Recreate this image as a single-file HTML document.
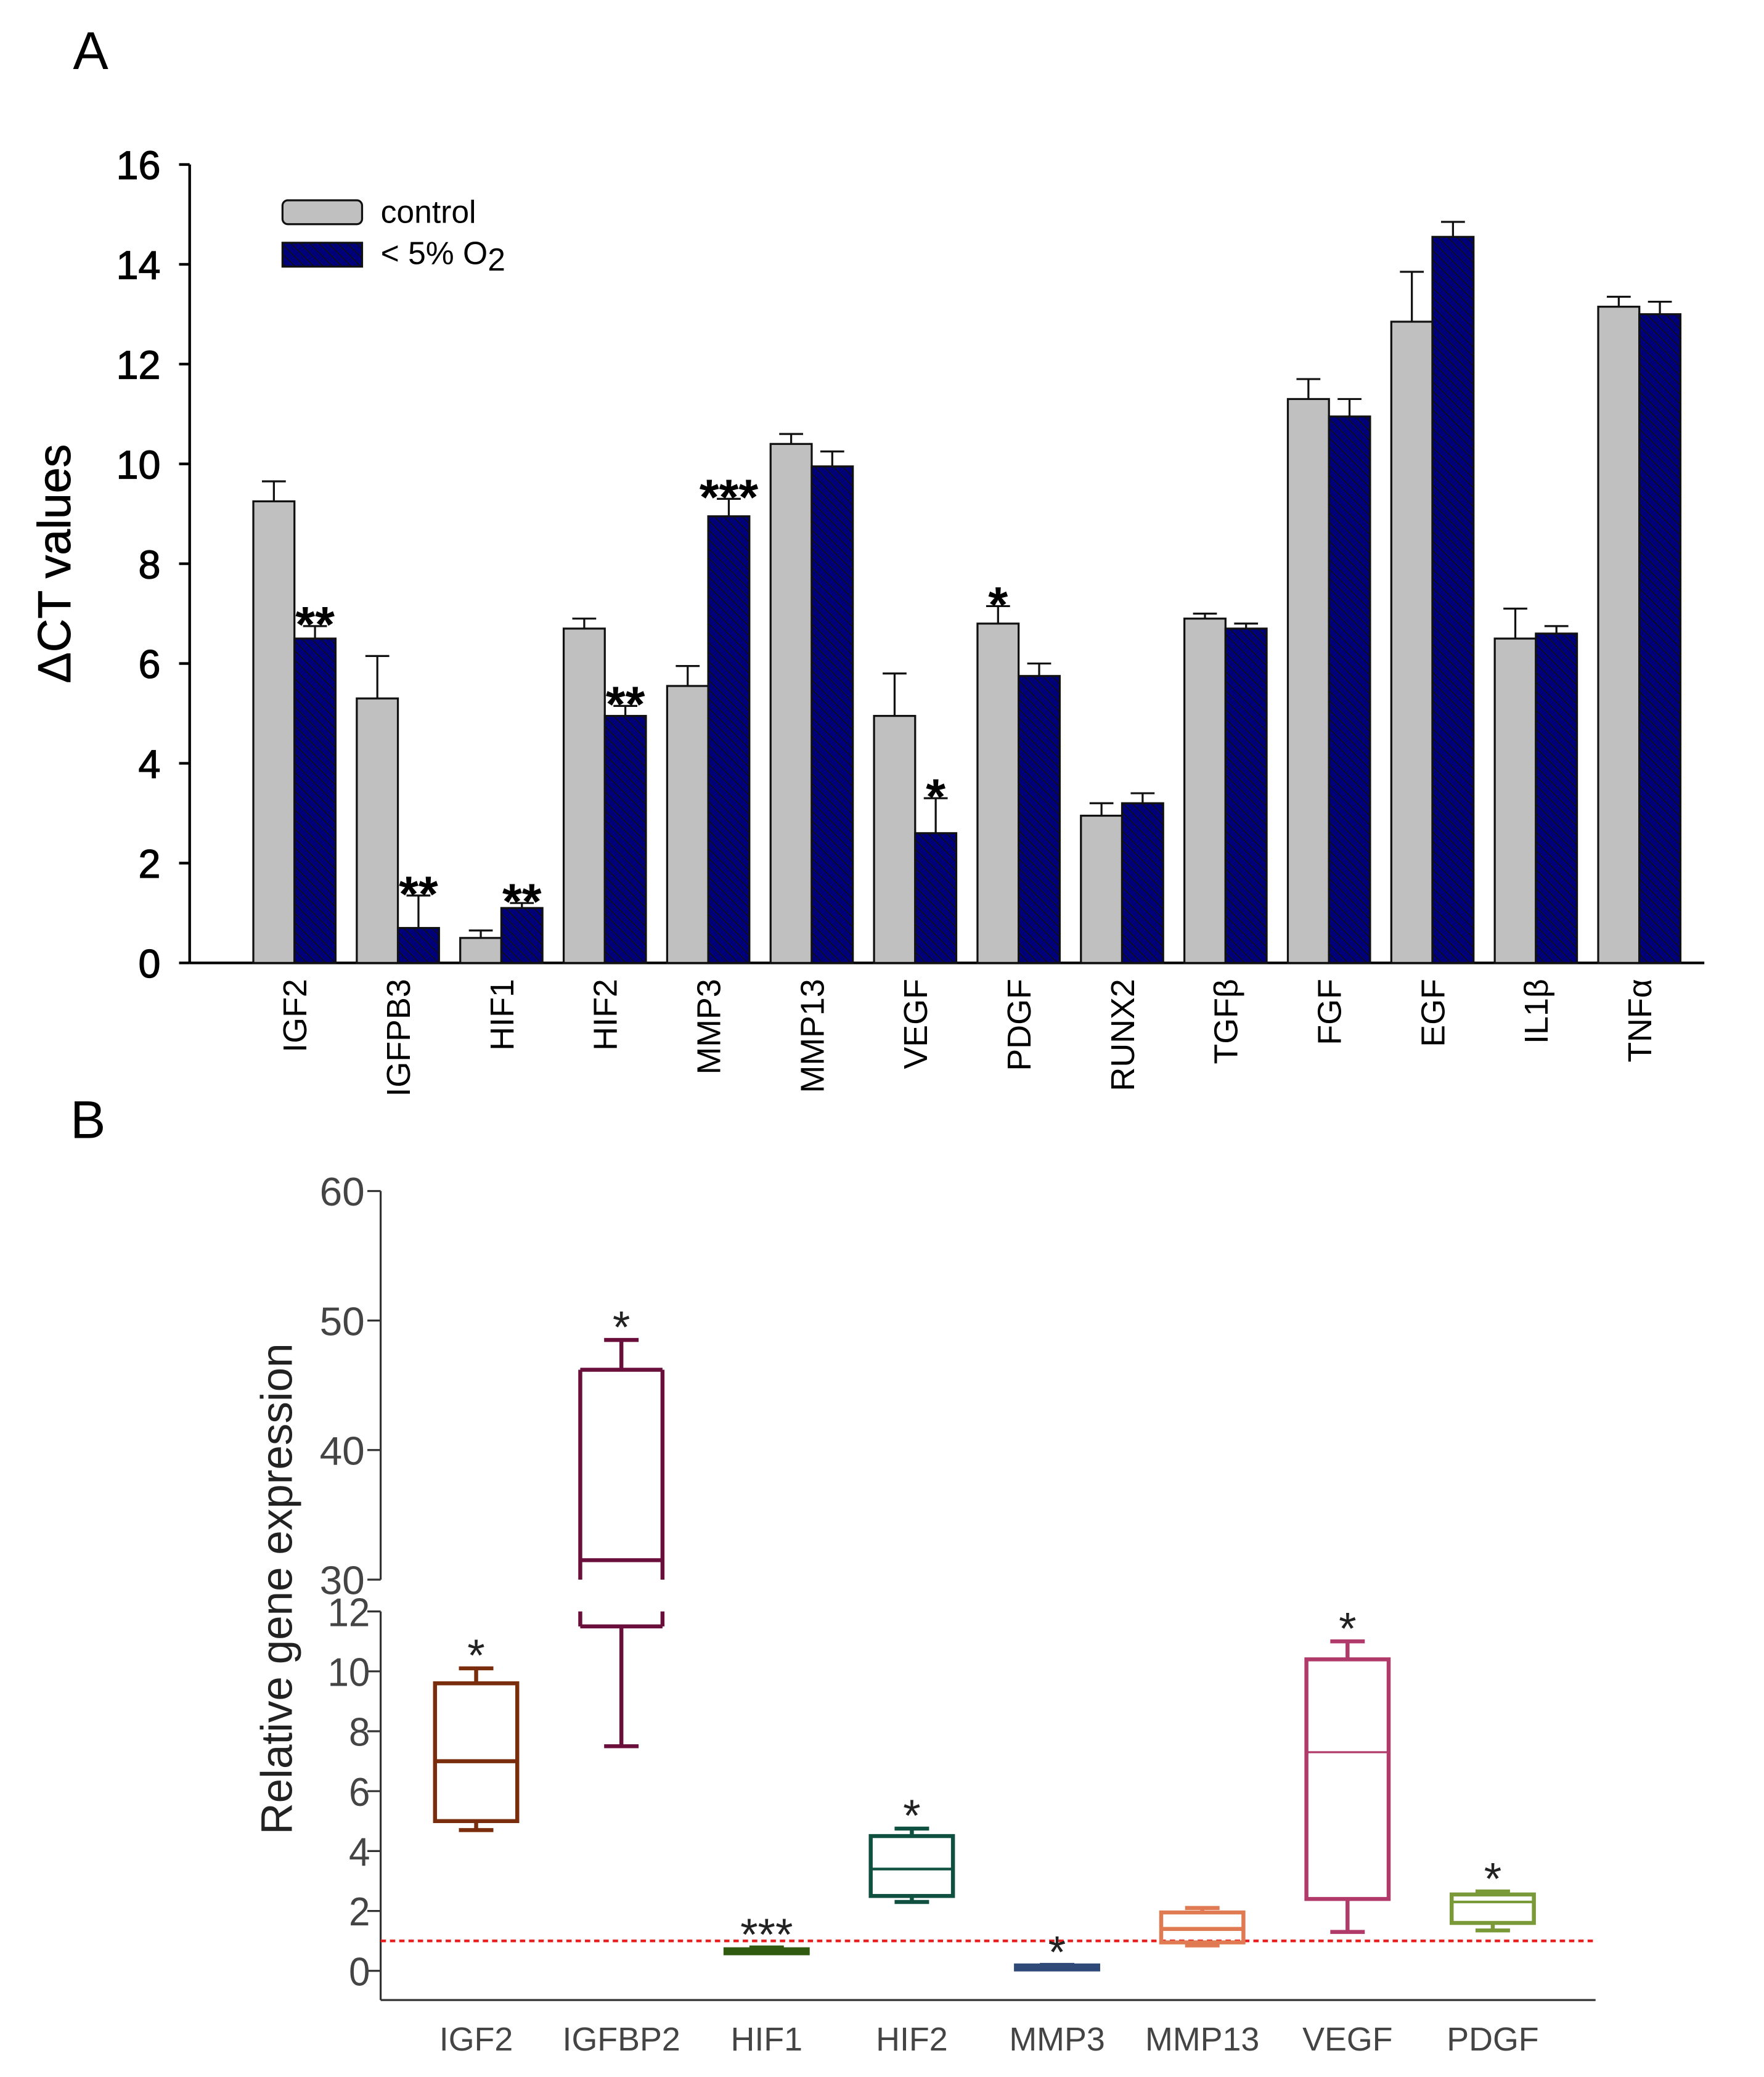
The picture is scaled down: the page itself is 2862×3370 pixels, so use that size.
<!DOCTYPE html>
<html><head><meta charset="utf-8"><style>
html,body{margin:0;padding:0;background:#fff}
svg{display:block}
text{font-family:"Liberation Sans",sans-serif}
</style></head><body>
<svg id="fig" width="2862" height="3370" viewBox="0 0 1330 1566" xmlns="http://www.w3.org/2000/svg">
<defs>
<pattern id="hatch" patternUnits="userSpaceOnUse" width="5" height="5" patternTransform="rotate(-45)">
<rect width="5" height="5" fill="#00007a"/>
<line x1="0" y1="0" x2="0" y2="5" stroke="#111" stroke-width="1.4"/>
</pattern>
</defs>
<text x="55" y="52" font-size="40">A</text>
<text x="53" y="858" font-size="40">B</text>
<g id="chartA"></g>
<g id="chartB"></g>
</svg>
<script>
const catsA=["IGF2","IGFPB3","HIF1","HIF2","MMP3","MMP13","VEGF","PDGF","RUNX2","TGFβ","FGF","EGF","IL1β","TNFα"];
const ctrlVals=[9.25,5.3,0.5,6.7,5.55,10.4,4.95,6.8,2.95,6.9,11.3,12.85,6.5,13.15];
const ctrlErr=[0.4,0.85,0.15,0.2,0.4,0.2,0.85,0.35,0.25,0.1,0.4,1.0,0.6,0.2];
const hypVals=[6.5,0.7,1.1,4.95,8.95,9.95,2.6,5.75,3.2,6.7,10.95,14.55,6.6,13.0];
const hypErr=[0.25,0.65,0.1,0.2,0.35,0.3,0.7,0.25,0.2,0.1,0.35,0.3,0.15,0.25];
const ctrlStars=["","","","","","","","*","","","","","",""];
const hypStars=["**","**","**","**","***","","*","","","","","","",""];
const ticksA=[0,2,4,6,8,10,12,14,16];

const catsB=["IGF2","IGFBP2","HIF1","HIF2","MMP3","MMP13","VEGF","PDGF"];
const bMin=[4.7,7.5,0.6,2.3,0.1,0.85,1.3,1.35];
const bQ1=[5.0,11.5,0.62,2.5,0.12,0.95,2.4,1.6];
const bMed=[7.0,31.5,0.68,3.4,0.15,1.4,7.3,2.3];
const bQ3=[9.6,46.2,0.72,4.5,0.18,1.95,10.4,2.55];
const bMax=[10.1,48.5,0.78,4.75,0.2,2.1,11.0,2.65];
const bStars=["*","*","***","*","*","","*","*"];
const bColors=["#7a2d0c","#6a0f3c","#2f5a0f","#0f5040","#2f4a78","#e07a52","#b03a6a","#7a9a3a"];
const ticksBLow=[0,2,4,6,8,10,12];
const ticksBHigh=[30,40,50,60];

const NS="http://www.w3.org/2000/svg";
function mk(parent,tag,attrs,txt){const e=document.createElementNS(NS,tag);for(const k in attrs)e.setAttribute(k,attrs[k]);if(txt!==undefined)e.textContent=txt;parent.appendChild(e);return e;}

// Chart A
const gA=document.getElementById('chartA');
const ax0=143, axR=1285, y0A=726, y16=124;
const yA=v=>y0A-(y0A-y16)*v/16;
const xA=i=>222+78*i;
const bw=31;
let l=mk(gA,'line',{x1:ax0,y1:y16,x2:ax0,y2:y0A,stroke:'#000','stroke-width':2});


l=mk(gA,'line',{x1:ax0,y1:y0A,x2:axR,y2:y0A,stroke:'#000','stroke-width':2});


ticksA.forEach(t=>{
  mk(gA,'line',{x1:ax0-8,y1:yA(t),x2:ax0,y2:yA(t),stroke:'#000','stroke-width':2});
  const tx=mk(gA,'text',{x:ax0-22,y:yA(t)+11,'font-size':30,'text-anchor':'end',stroke:'#000','stroke-width':0.6},String(t));
  
  
});
let tt=mk(gA,'text',{x:0,y:0,'font-size':35,'text-anchor':'middle',stroke:'#000','stroke-width':0.4,transform:'translate(53,425) rotate(-90)'},'ΔCT values');


catsA.forEach((c,i)=>{
  const cx=xA(i);
  [[ctrlVals[i],ctrlErr[i],'#c0c0c0',cx-bw,ctrlStars[i],'control'],[hypVals[i],hypErr[i],'url(#hatch)',cx,hypStars[i],'hypoxia']].forEach(([v,e,f,x,s,n])=>{
    const r=mk(gA,'rect',{x:x,y:yA(v),width:bw,height:y0A-yA(v),fill:f,stroke:'#111','stroke-width':1.5});
    
    
    const mx=x+bw/2;
    mk(gA,'line',{x1:mx,y1:yA(v),x2:mx,y2:yA(v+e),stroke:'#111','stroke-width':1.5});
    mk(gA,'line',{x1:mx-9,y1:yA(v+e),x2:mx+9,y2:yA(v+e),stroke:'#111','stroke-width':1.5});
    if(s){const st=mk(gA,'text',{x:mx,y:yA(v+e)+12,'font-size':38,'text-anchor':'middle','font-weight':'bold'},s);
      
      }
  });
  const lb=mk(gA,'text',{x:0,y:0,'font-size':25,'text-anchor':'end',transform:`translate(${cx+9},738) rotate(-90)`},c);
  
  
});
// legend
let lg=mk(gA,'rect',{x:213,y:151,width:60,height:18,rx:4,fill:'#c0c0c0',stroke:'#111','stroke-width':1.5});


lg=mk(gA,'text',{x:287,y:168,'font-size':24},'control');


lg=mk(gA,'rect',{x:213,y:183,width:60,height:18,fill:'url(#hatch)',stroke:'#111','stroke-width':1.5});


lg=mk(gA,'text',{x:287,y:199,'font-size':24},'< 5% O');


mk(lg,'tspan',{dy:5,'font-size':24},'2');

// Chart B
const gB=document.getElementById('chartB');
const bx0=287,bxR=1203,bAxB=1508;
const yLow=v=>1486-v*(1486-1215)/12;
const yHigh=v=>1191-(v-30)*(1191-898)/30;
const yB=v=>v<=12?yLow(v):(v>=30?yHigh(v):null);
const xB=i=>359+109.5*i;
l=mk(gB,'line',{x1:bx0,y1:898,x2:bx0,y2:1191,stroke:'#333','stroke-width':1.5});


l=mk(gB,'line',{x1:bx0,y1:1215,x2:bx0,y2:bAxB,stroke:'#333','stroke-width':1.5});


l=mk(gB,'line',{x1:bx0,y1:bAxB,x2:bxR,y2:bAxB,stroke:'#333','stroke-width':1.5});


ticksBLow.forEach(t=>{
  mk(gB,'line',{x1:bx0-10,y1:yLow(t),x2:bx0,y2:yLow(t),stroke:'#333','stroke-width':1.5});
  const tx=mk(gB,'text',{x:bx0-8,y:yLow(t)+11,'font-size':30,'text-anchor':'end',fill:'#444',textLength:t>=10?32:16,lengthAdjust:'spacingAndGlyphs'},String(t));
  
  
});
ticksBHigh.forEach(t=>{
  mk(gB,'line',{x1:bx0-10,y1:yHigh(t),x2:bx0,y2:yHigh(t),stroke:'#333','stroke-width':1.5});
  const tx=mk(gB,'text',{x:bx0-12,y:yHigh(t)+11,'font-size':30,'text-anchor':'end',fill:'#444',textLength:34,lengthAdjust:'spacingAndGlyphs'},String(t));
  
  
});
tt=mk(gB,'text',{x:0,y:0,'font-size':33,'text-anchor':'middle',fill:'#222',transform:'translate(220,1198) rotate(-90)'},'Relative gene expression');


const ref=mk(gB,'line',{x1:bx0,y1:yLow(1),x2:bxR,y2:yLow(1),stroke:'#e82020','stroke-width':2,'stroke-dasharray':'4,3'});


const bwB=62;
function seg(g,y1,y2,x,c){
  const a=Math.min(y1,y2),b=Math.max(y1,y2);
  mk(g,'line',{x1:x,y1:a,x2:x,y2:b,stroke:c,'stroke-width':3});
}
catsB.forEach((c,i)=>{
  const cx=xB(i),col=bColors[i],g=mk(gB,'g',{});
  
  
  const x1=cx-bwB/2,x2=cx+bwB/2;
  const yq1=yB(bQ1[i]),yq3=yB(bQ3[i]);
  const sw=3;
  if(bQ3[i]>12&&bQ1[i]<=12){
    [x1,x2].forEach(x=>{seg(g,yq3,yHigh(30),x,col);seg(g,yLow(12),yq1,x,col);});
    mk(g,'line',{x1:x1,y1:yq3,x2:x2,y2:yq3,stroke:col,'stroke-width':sw});
    mk(g,'line',{x1:x1,y1:yq1,x2:x2,y2:yq1,stroke:col,'stroke-width':sw});
  } else {
    const hgt=Math.max(yq1-yq3,3);
    mk(g,'rect',{x:x1,y:yq3,width:bwB,height:hgt,fill:(i===2||i===4)?col:'none',stroke:col,'stroke-width':sw});
  }
  mk(g,'line',{x1:x1,y1:yB(bMed[i]),x2:x2,y2:yB(bMed[i]),stroke:col,'stroke-width':i===6?1.5:(i===7||i===3?2:3)});
  seg(g,yB(bMax[i]),yq3,cx,col);
  seg(g,yq1,yB(bMin[i]),cx,col);
  mk(g,'line',{x1:cx-13,y1:yB(bMax[i]),x2:cx+13,y2:yB(bMax[i]),stroke:col,'stroke-width':3});
  mk(g,'line',{x1:cx-13,y1:yB(bMin[i]),x2:cx+13,y2:yB(bMin[i]),stroke:col,'stroke-width':3});
  if(bStars[i]){const st=mk(gB,'text',{x:cx,y:yB(bMax[i])+2,'font-size':34,'text-anchor':'middle',fill:'#222'},bStars[i]);
    
    }
  const lb=mk(gB,'text',{x:cx,y:1546,'font-size':25,'text-anchor':'middle',fill:'#444'},c);
  
  
});
</script>
</body></html>
